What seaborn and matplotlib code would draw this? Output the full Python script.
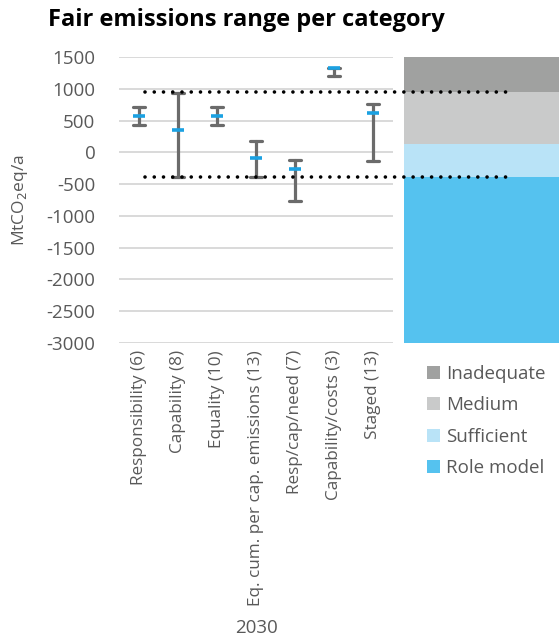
import numpy as np
import pandas as pd
import matplotlib
matplotlib.use("Agg")
import matplotlib.pyplot as plt
import matplotlib.transforms as mtransforms
from matplotlib.patches import Patch
import seaborn as sns

# Fair emission ranges per burden-sharing category (MtCO2eq/a, 2030)
categories = ["Responsibility (6)", "Capability (8)", "Equality (10)",
              "Eq. cum. per cap. emissions (13)", "Resp/cap/need (7)",
              "Capability/costs (3)", "Staged (13)"]
range_low = [425, -384, 425, -384, -766, 1198, -137]
central = [576, 351, 576, -94, -268, 1330, 623]
range_high = [717, 928, 717, 178, -121, 1330, 760]

# Assessment bands (upper / lower bounds)
band_labels = ["Inadequate", "Medium", "Sufficient", "Role model"]
band_high = [1500, 953, 129, -384]
band_low = [953, 129, -384, -3000]
band_colors = ["#a0a1a0", "#c9caca", "#b9e3f7", "#55c2ef"]

# Thresholds drawn as dotted reference lines
thresholds = [953, -384]

yticks = list(range(-3000, 1501, 500))

sns.set_theme(style="white")
plt.rcParams["font.family"] = ["Open Sans", "DejaVu Sans"]
text_grey = "#595959"

df = pd.DataFrame({
    "category": np.repeat(categories, 3),
    "value": np.ravel(np.column_stack([range_low, central, range_high])),
})

fig = plt.figure(figsize=(5.59, 6.42), dpi=100)
W, H = 559, 642
ax2 = fig.add_axes([404 / W, 1 - 343 / H, 155 / W, 286 / H])
ax = fig.add_axes([119 / W, 1 - 343 / H, 274 / W, 286 / H])
ax.set_zorder(3)
ax.patch.set_alpha(0)
ax2.set_zorder(1)

# Median of (low, central, high) is the central value; 100% interval spans the range
sns.pointplot(data=df, x="category", y="value", order=categories, ax=ax,
              estimator="median", errorbar=("pi", 100), capsize=0.31,
              color="#1ba1e2", marker="_", linestyle="none",
              markersize=9, markeredgewidth=2.6,
              err_kws={"color": "#6b6b6b", "linewidth": 2.3})
for ln in ax.lines:
    if ln.get_marker() == "_":
        ln.set_zorder(6)
    else:
        ln.set_zorder(4)

ax.set_xlim(-0.5, len(categories) - 0.5)
ax.set_ylim(-3000, 1500)
ax.set_yticks(yticks)
ax.set_yticklabels([str(t) for t in yticks])
ax.yaxis.grid(True, color="#d9d9d9", linewidth=1.4)
ax.set_axisbelow(True)
for s in ax.spines.values():
    s.set_visible(False)
ax.tick_params(axis="y", length=0, pad=17, labelsize=13.5, labelcolor=text_grey)
ax.tick_params(axis="x", length=0, pad=5, labelsize=12.3, labelcolor=text_grey,
               labelrotation=90)
ax.set_xlabel("2030", fontsize=13.5, color=text_grey)
ax.xaxis.label.set_va("center")
ax.xaxis.set_label_coords(0.5, (343 - 628) / 286)
ax.set_ylabel("MtCO$_2$eq/a", fontsize=12.5, color=text_grey, labelpad=12)

# Dotted thresholds spanning both panels
trans = mtransforms.blended_transform_factory(ax.transAxes, ax.transData)
for t in thresholds:
    ax.plot([0.095, 1.434], [t, t], transform=trans, clip_on=False,
            color="black", linewidth=2.6, linestyle=(0, (0.01, 2.55)),
            dash_capstyle="round", zorder=10)

# Stacked assessment bands on the right
for lo, hi, c in zip(band_low, band_high, band_colors):
    ax2.bar(0, hi - lo, bottom=lo, width=1.0, color=c, linewidth=0)
ax2.set_xlim(-0.5, 0.5)
ax2.set_ylim(-3000, 1500)
ax2.axis("off")

handles = [Patch(facecolor=c, edgecolor="none") for c in band_colors]
fig.legend(handles, band_labels, loc="upper left",
           bbox_to_anchor=(410 / W, 1 - 348 / H), frameon=False,
           fontsize=13.5, labelcolor=text_grey, handlelength=0.7,
           handleheight=0.7, handletextpad=0.3, labelspacing=0.72)

fig.text(246 / W, 1 - 20 / H, "Fair emissions range per category",
         ha="center", va="center", fontsize=17, fontweight="bold", color="black")

fig.savefig("out.png", dpi=100)
